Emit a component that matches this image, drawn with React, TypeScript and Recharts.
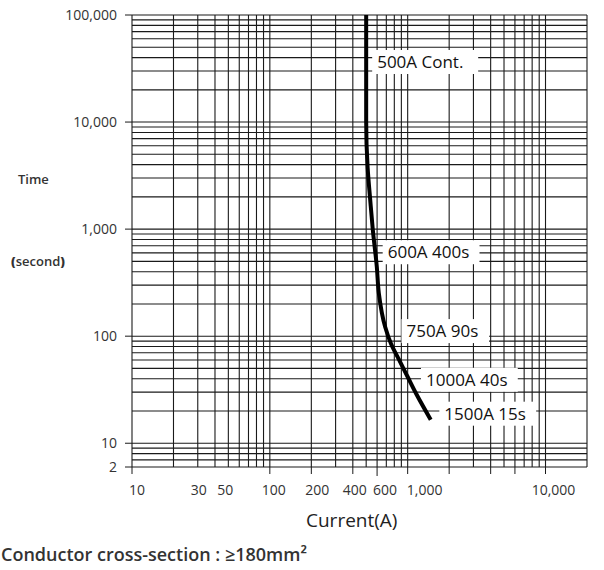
import { LineChart, Line, XAxis, YAxis, CartesianGrid, ReferenceDot } from "recharts";

// fusing curve
const currentA = [500, 500, 512, 535, 558, 597, 618, 687, 757, 867, 997, 1153, 1470];
const timeS = [100000, 10000, 3800, 1870, 1000, 446, 251, 122, 85, 60, 42, 29, 16.6];

// log grid lines
const xGrid = [
  10, 20, 30, 40, 50, 60, 70, 80, 90,
  100, 200, 300, 400, 500, 600, 700, 800, 900,
  1000, 2000, 3000, 4000, 5000, 6000, 7000, 8000, 9000,
  10000, 20000,
];
const yGrid = [
  6, 7, 8, 9,
  10, 20, 30, 40, 50, 60, 70, 80, 90,
  100, 200, 300, 400, 500, 600, 700, 800, 900,
  1000, 2000, 3000, 4000, 5000, 6000, 7000, 8000, 9000,
  10000, 20000, 30000, 40000, 50000, 60000, 70000, 80000, 90000,
  100000,
];

const xLabelValues = [10, 30, 50, 100, 200, 400, 600, 1000, 10000];
const xLabels = ["10", "30", "50", "100", "200", "400", "600", "1,000", "10,000"];
const xMarkValues = [10, 100, 200, 400, 600, 1000, 2000, 4000, 6000, 10000];

// the sheet prints "2" at the bottom edge of the grid
const yLabelValues = [6, 10, 100, 1000, 10000, 100000];
const yLabels = ["2", "10", "100", "1,000", "10,000", "100,000"];

const noteCurrent = [500, 600, 750, 1000, 1500];
const noteTime = [100000, 400, 90, 40, 15];
const noteText = ["500A Cont.", "600A 400s", "750A 90s", "1000A 40s", "1500A 15s"];

const data = currentA.map((c, i) => ({ current: c, time: timeS[i] }));

// small pixel nudges for labels
const xLabelShift = [5, 1, -3, 4, 6, 2, 8, 17, 8];
const noteShift = [
  [11, 47],
  [10.6, -19.5],
  [16, -10],
  [18.3, 1],
  [12.4, -10.7],
];

const FONT = '"Open Sans", "Noto Sans", sans-serif';
const INK = "#1a1a1a";

function XTick(props: any) {
  const { x, y, payload } = props;
  const v = payload.value;
  const li = xLabelValues.indexOf(v);
  const mark = xMarkValues.includes(v);
  return (
    <g>
      {mark && <line x1={x} x2={x} y1={y} y2={y + (v === 600 ? 9 : 7)} stroke={INK} />}
      {li >= 0 && (
        <text x={x + xLabelShift[li]} y={y + 28} textAnchor="middle" fontSize={14} fill="#333" fontFamily={FONT}>
          {xLabels[li]}
        </text>
      )}
    </g>
  );
}

function YTick(props: any) {
  const { x, y, payload } = props;
  const li = yLabelValues.indexOf(payload.value);
  if (li < 0) return <g />;
  return (
    <g>
      <line x1={x - 7} x2={x} y1={y} y2={y} stroke={INK} />
      <text x={x - 15} y={y + 5} textAnchor="end" fontSize={14} fill="#333" fontFamily={FONT}>
        {yLabels[li]}
      </text>
    </g>
  );
}

function NoteBox({ cx, cy, i }: { cx: number; cy: number; i: number }) {
  const [dx, dy] = noteShift[i];
  const tx = cx + dx;
  const ty = cy + dy;
  const w = noteText[i].length * 9.2 + 14;
  return (
    <g>
      <rect x={tx - 5} y={ty - 12} width={w} height={24} fill="#fff" />
      <text x={tx} y={ty + 6} fontSize={17} fill="#111" fontFamily={FONT}>
        {noteText[i]}
      </text>
    </g>
  );
}

export default function App() {
  return (
    <div style={{ position: "absolute", left: 0, top: 0, width: 604, height: 570, background: "#fff", fontFamily: FONT }}>
      <LineChart width={604} height={570} data={data} margin={{ top: 15, right: 17, bottom: 0, left: 0 }}>
        <CartesianGrid stroke={INK} strokeWidth={1.1} />
        <XAxis
          dataKey="current"
          type="number"
          scale="log"
          domain={[10, 20000]}
          ticks={xGrid}
          interval={0}
          allowDataOverflow
          axisLine={false}
          tickLine={false}
          tickSize={0}
          tickMargin={0}
          height={103}
          tick={(p: any) => <XTick {...p} />}
        />
        <YAxis
          type="number"
          scale="log"
          domain={[6, 100000]}
          ticks={yGrid}
          interval={0}
          allowDataOverflow
          axisLine={false}
          tickLine={false}
          tickSize={0}
          tickMargin={0}
          width={132}
          tick={(p: any) => <YTick {...p} />}
        />
        <Line type="monotoneY" dataKey="time" stroke="#000" strokeWidth={4} dot={false} isAnimationActive={false} />
        {noteText.map((t, i) => (
          <ReferenceDot
            key={t}
            x={noteCurrent[i]}
            y={noteTime[i]}
            r={0}
            shape={(p: any) => <NoteBox cx={p.cx} cy={p.cy} i={i} />}
          />
        ))}
      </LineChart>
      <div style={{ position: "absolute", left: 18, top: 173, fontSize: 13, fontWeight: 600, color: "#333", lineHeight: 1 }}>
        Time
      </div>
      <div style={{ position: "absolute", left: 11, top: 255, fontSize: 13, fontWeight: 600, color: "#333", lineHeight: 1 }}>
        <b style={{ fontWeight: 800 }}>(</b>second<b style={{ fontWeight: 800 }}>)</b>
      </div>
      <div style={{ position: "absolute", left: 306, top: 511, fontSize: 19, color: "#222", lineHeight: 1 }}>
        Current(A)
      </div>
      <div style={{ position: "absolute", left: 1, top: 545, fontSize: 18, fontWeight: 600, color: "#333", lineHeight: 1, whiteSpace: "nowrap" }}>
        Conductor cross-section : ≥180mm²
      </div>
    </div>
  );
}
